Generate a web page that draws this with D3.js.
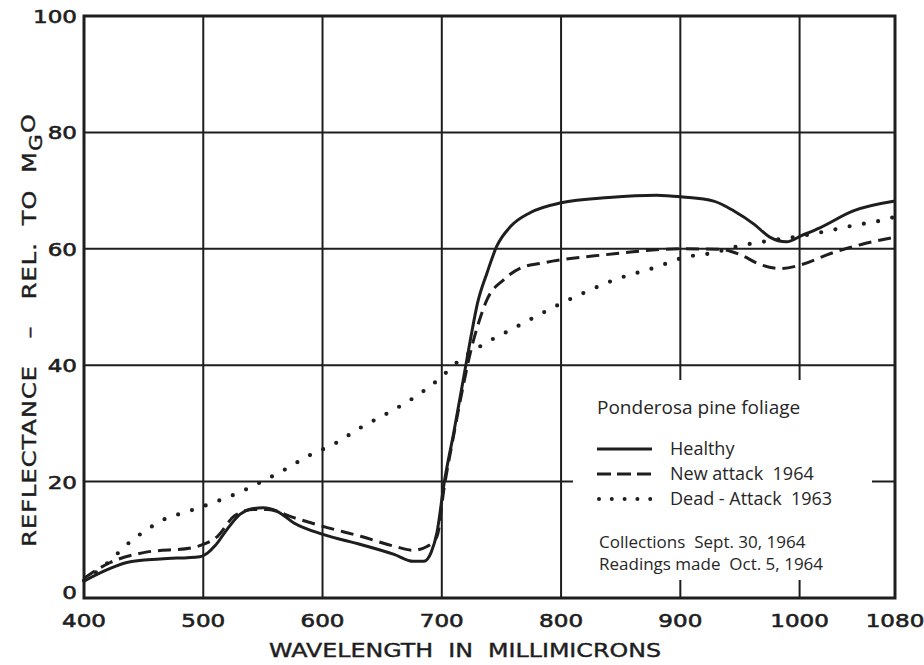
<!DOCTYPE html>
<html>
<head>
<meta charset="utf-8">
<script src="https://cdn.jsdelivr.net/npm/d3@7"></script>
<style>
  body { margin: 0; background: #fff; }
  svg { display: block; }
</style>
</head>
<body>
<div id="chart"></div>
<script>
// wavelength (millimicrons), reflectance (% rel. to MgO)
const healthy = [
  [400, 2.9], [420, 4.9], [436, 6.1], [464, 6.7], [497, 7.1], [504, 7.8], [510, 9.0],
  [520, 11.8], [531, 14.4], [540, 15.3], [550, 15.5], [562, 14.9], [576, 12.9],
  [601, 10.9], [632, 9.2], [660, 7.5], [676, 6.3], [685, 6.3], [691, 7.8], [696, 11.3],
  [702, 19.8], [710, 28.4], [718, 37.5], [724, 44.4], [730, 50.7], [738, 55.9],
  [746, 60.4], [758, 63.9], [774, 66.2], [800, 67.9], [840, 68.8], [880, 69.2],
  [902, 68.9], [928, 68.2], [945, 66.5], [962, 64.2], [975, 62.0], [989, 61.2],
  [1002, 62.3], [1017, 63.6], [1045, 66.5], [1080, 68.2]
];
const newAttack = [
  [400, 3.4], [422, 6.1], [450, 7.8], [492, 8.7], [500, 9.2], [512, 10.6], [526, 14.1],
  [542, 15.2], [554, 15.2], [576, 13.8], [604, 12.1], [632, 10.6], [660, 8.9],
  [676, 8.2], [688, 8.9], [696, 10.6], [702, 19.0], [710, 28.0], [718, 36.5],
  [724, 42.2], [730, 46.7], [738, 51.3], [752, 54.7], [766, 56.7], [783, 57.5],
  [800, 58.1], [838, 59.0], [866, 59.6], [900, 60.0], [934, 59.9], [950, 59.0],
  [967, 57.3], [984, 56.6], [1002, 57.3], [1026, 59.2], [1051, 60.7], [1080, 62.0]
];
const deadAttack = [
  [400, 3.0], [415, 5.2], [430, 8.0], [440, 9.9], [452, 11.6], [464, 13.2], [478, 14.3],
  [492, 15.2], [506, 16.2], [519, 17.2], [531, 18.2], [544, 19.5], [567, 21.9],
  [588, 24.4], [610, 26.5], [633, 29.4], [654, 31.7], [675, 34.2], [697, 37.5],
  [714, 40.7], [735, 43.6], [758, 46.1], [780, 48.5], [801, 50.7], [822, 52.7],
  [844, 54.6], [879, 56.8], [903, 58.5], [927, 59.3], [952, 60.6], [975, 61.4],
  [998, 62.1], [1022, 63.0], [1045, 64.0], [1069, 64.9], [1080, 65.5]
];

const xTicks = [400, 500, 600, 700, 800, 900, 1000, 1080];
const yTicks = [0, 20, 40, 60, 80, 100];
const seriesNames = ["Healthy", "New attack  1964", "Dead - Attack  1963"];
const legendTitle = "Ponderosa pine foliage";
const notes = ["Collections  Sept. 30, 1964", "Readings made  Oct. 5, 1964"];

const W = 924, H = 665;
const ink = "#1e1e1e";
const letterFont = "DejaVu Sans";
const legendFont = "'Open Sans', 'Noto Sans', sans-serif";

const x = d3.scaleLinear().domain([400, 1080]).range([84, 895]);
const y = d3.scaleLinear().domain([0, 100]).range([598, 16]);

const svg = d3.select("#chart").append("svg")
  .attr("width", W)
  .attr("height", H);

// grid
svg.append("g").selectAll("line")
  .data(xTicks.slice(1, -1))
  .join("line")
  .attr("x1", d => x(d)).attr("x2", d => x(d))
  .attr("y1", y(0)).attr("y2", y(100))
  .attr("stroke", ink).attr("stroke-width", 2);

svg.append("g").selectAll("line")
  .data(yTicks.slice(1, -1))
  .join("line")
  .attr("x1", x(400)).attr("x2", x(1080))
  .attr("y1", d => y(d)).attr("y2", d => y(d))
  .attr("stroke", ink).attr("stroke-width", 2);

// legend area blanks out the grid behind it
svg.append("rect")
  .attr("x", 573).attr("y", 380)
  .attr("width", 299).attr("height", 200)
  .attr("fill", "#fff");

// frame
svg.append("rect")
  .attr("x", x(400)).attr("y", y(100))
  .attr("width", x(1080) - x(400)).attr("height", y(0) - y(100))
  .attr("fill", "none").attr("stroke", ink).attr("stroke-width", 3);

// curves
const line = d3.line()
  .x(d => x(d[0]))
  .y(d => y(d[1]))
  .curve(d3.curveMonotoneX);

svg.append("path").datum(deadAttack)
  .attr("d", line).attr("fill", "none")
  .attr("stroke", ink).attr("stroke-width", 4.2)
  .attr("stroke-linecap", "round")
  .attr("stroke-dasharray", "0 14.5");

svg.append("path").datum(newAttack)
  .attr("d", line).attr("fill", "none")
  .attr("stroke", ink).attr("stroke-width", 3)
  .attr("stroke-dasharray", "13 7");

svg.append("path").datum(healthy)
  .attr("d", line).attr("fill", "none")
  .attr("stroke", ink).attr("stroke-width", 3);

// tick labels (wide lettering)
const lettering = sel => sel
  .attr("font-family", letterFont)
  .attr("fill", ink)
  .attr("stroke", ink)
  .attr("stroke-width", 0.6);

svg.append("g").selectAll("text")
  .data(xTicks)
  .join("text")
  .attr("transform", d => `translate(${x(d)},627) scale(1.28,1)`)
  .attr("text-anchor", "middle")
  .attr("font-size", 18)
  .call(lettering)
  .text(d => d);

svg.append("g").selectAll("text")
  .data(yTicks)
  .join("text")
  .attr("transform", d => `translate(77,${d === 0 ? y(d) + 1 : y(d) + 7}) scale(1.28,1)`)
  .attr("text-anchor", "end")
  .attr("font-size", 18)
  .call(lettering)
  .text(d => d);

// axis titles
svg.append("text")
  .attr("transform", "translate(465,657) scale(1.25,1)")
  .attr("text-anchor", "middle")
  .attr("font-size", 19)
  .attr("word-spacing", 6)
  .call(lettering)
  .attr("stroke-width", 0.4)
  .text("WAVELENGTH IN MILLIMICRONS");

const yTitle = svg.append("text")
  .attr("transform", "translate(36,330) rotate(-90) scale(1.2,1)")
  .attr("text-anchor", "middle")
  .attr("font-size", 20)
  .attr("letter-spacing", 0.9)
  .call(lettering)
  .attr("stroke-width", 0.4);
yTitle.append("tspan").text("REFLECTANCE");
yTitle.append("tspan").attr("dx", 22).text("–");
yTitle.append("tspan").attr("dx", 22).text("REL.");
yTitle.append("tspan").attr("dx", 14).text("TO");
yTitle.append("tspan").attr("dx", 14).text("M");
yTitle.append("tspan").attr("dy", 6).attr("font-size", 18).text("G");
yTitle.append("tspan").attr("dy", -7).text("O");

// legend
const lg = svg.append("g").attr("font-family", legendFont).attr("fill", "#262626");

lg.append("text").attr("x", 597).attr("y", 414)
  .attr("font-size", 19).text(legendTitle);

const legendRows = [
  { y: 451, dash: null, width: 3, cap: "butt" },
  { y: 476, dash: "14 6", width: 3, cap: "butt" },
  { y: 501, dash: "0 12.8", width: 4, cap: "round" }
];
legendRows.forEach((r, i) => {
  lg.append("line")
    .attr("x1", r.cap === "round" ? 599 : 597).attr("x2", 652)
    .attr("y1", r.y - 2).attr("y2", r.y - 2)
    .attr("stroke", ink).attr("stroke-width", r.width)
    .attr("stroke-linecap", r.cap)
    .attr("stroke-dasharray", r.dash);
  lg.append("text").attr("x", 670).attr("y", r.y + 4)
    .attr("font-size", 18)
    .style("white-space", "pre")
    .text(seriesNames[i]);
});

notes.forEach((t, i) => {
  lg.append("text").attr("x", 599).attr("y", 548 + i * 22)
    .attr("font-size", 17)
    .style("white-space", "pre")
    .text(t);
});
</script>
</body>
</html>
